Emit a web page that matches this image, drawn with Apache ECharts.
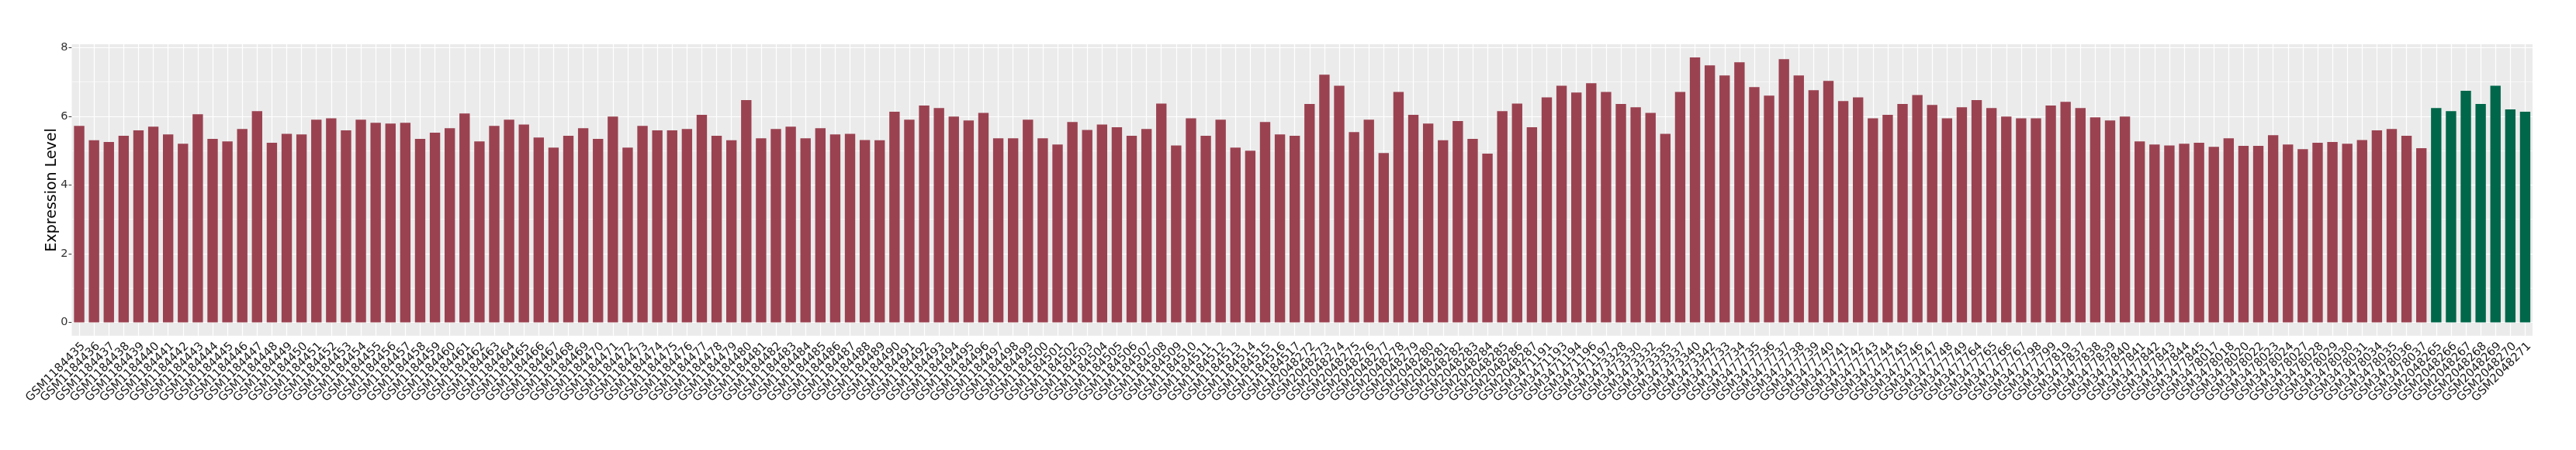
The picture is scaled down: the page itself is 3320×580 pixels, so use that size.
<!DOCTYPE html>
<html><head><meta charset="utf-8">
<script src="https://cdn.jsdelivr.net/npm/echarts@6/dist/echarts.min.js"></script>
<style>html,body{margin:0;padding:0;background:#fff}#c{width:3320px;height:580px}</style>
</head><body><div id="c"></div>
<script>
const categories = [
"GSM1184435","GSM1184436","GSM1184437","GSM1184438","GSM1184439","GSM1184440","GSM1184441","GSM1184442","GSM1184443","GSM1184444",
"GSM1184445","GSM1184446","GSM1184447","GSM1184448","GSM1184449","GSM1184450","GSM1184451","GSM1184452","GSM1184453","GSM1184454",
"GSM1184455","GSM1184456","GSM1184457","GSM1184458","GSM1184459","GSM1184460","GSM1184461","GSM1184462","GSM1184463","GSM1184464",
"GSM1184465","GSM1184466","GSM1184467","GSM1184468","GSM1184469","GSM1184470","GSM1184471","GSM1184472","GSM1184473","GSM1184474",
"GSM1184475","GSM1184476","GSM1184477","GSM1184478","GSM1184479","GSM1184480","GSM1184481","GSM1184482","GSM1184483","GSM1184484",
"GSM1184485","GSM1184486","GSM1184487","GSM1184488","GSM1184489","GSM1184490","GSM1184491","GSM1184492","GSM1184493","GSM1184494",
"GSM1184495","GSM1184496","GSM1184497","GSM1184498","GSM1184499","GSM1184500","GSM1184501","GSM1184502","GSM1184503","GSM1184504",
"GSM1184505","GSM1184506","GSM1184507","GSM1184508","GSM1184509","GSM1184510","GSM1184511","GSM1184512","GSM1184513","GSM1184514",
"GSM1184515","GSM1184516","GSM1184517",
"GSM2048272","GSM2048273","GSM2048274","GSM2048275","GSM2048276","GSM2048277","GSM2048278","GSM2048279","GSM2048280","GSM2048281",
"GSM2048282","GSM2048283","GSM2048284","GSM2048285","GSM2048286","GSM2048287",
"GSM3471191","GSM3471193","GSM3471194","GSM3471196","GSM3471197","GSM3473328","GSM3473330","GSM3473332","GSM3473335","GSM3473337",
"GSM3473340","GSM3473342",
"GSM3477733","GSM3477734","GSM3477735","GSM3477736","GSM3477737","GSM3477738","GSM3477739","GSM3477740","GSM3477741","GSM3477742",
"GSM3477743","GSM3477744","GSM3477745","GSM3477746","GSM3477747","GSM3477748","GSM3477749","GSM3477764","GSM3477765","GSM3477766",
"GSM3477767","GSM3477798","GSM3477799","GSM3477819","GSM3477837","GSM3477838","GSM3477839","GSM3477840","GSM3477841","GSM3477842",
"GSM3477843","GSM3477844","GSM3477845",
"GSM3478017","GSM3478018","GSM3478020","GSM3478022","GSM3478023","GSM3478024","GSM3478027","GSM3478028","GSM3478029","GSM3478030",
"GSM3478031","GSM3478034","GSM3478035","GSM3478036","GSM3478037",
"GSM2048265","GSM2048266","GSM2048267","GSM2048268","GSM2048269","GSM2048270","GSM2048271"
];
const redValues = [
5.72,5.30,5.25,5.43,5.59,5.70,5.47,5.20,6.06,5.34,
5.27,5.63,6.15,5.23,5.49,5.47,5.90,5.94,5.59,5.90,
5.81,5.79,5.81,5.34,5.52,5.65,6.08,5.27,5.72,5.90,
5.76,5.38,5.09,5.43,5.65,5.34,5.99,5.09,5.72,5.59,
5.59,5.63,6.04,5.43,5.30,6.47,5.36,5.63,5.70,5.36,
5.65,5.47,5.49,5.31,5.30,6.13,5.90,6.31,6.24,5.99,
5.88,6.10,5.36,5.36,5.90,5.36,5.18,5.83,5.60,5.76,
5.68,5.43,5.63,6.37,5.15,5.94,5.43,5.90,5.09,5.00,
5.83,5.47,5.43,
6.36,7.21,6.89,5.54,5.90,4.93,6.71,6.04,5.79,5.30,
5.86,5.34,4.91,6.15,6.37,5.68,
6.55,6.89,6.69,6.96,6.71,6.36,6.26,6.10,5.49,6.71,
7.71,7.48,
7.19,7.57,6.85,6.60,7.66,7.19,6.76,7.03,6.44,6.55,
5.94,6.04,6.36,6.62,6.33,5.94,6.26,6.47,6.24,5.99,
5.94,5.94,6.31,6.42,6.24,5.97,5.88,5.99,5.27,5.18,
5.15,5.20,5.23,
5.11,5.36,5.14,5.14,5.45,5.18,5.04,5.23,5.25,5.20,
5.31,5.59,5.63,5.43,5.07
];
const greenValues = [6.24,6.15,6.74,6.36,6.89,6.20,6.13];
const yTicks = [0, 2, 4, 6, 8];
const yMinor = [1, 3, 5, 7];
const yMin = -0.386, yMax = 8.096;
const RED = '#9B4251', GREEN = '#00674A';

const barData = redValues.map(v => ({value: v, itemStyle: {color: RED}}))
  .concat(greenValues.map(v => ({value: v, itemStyle: {color: GREEN}})));

const gridLines = [];
yMinor.forEach(v => gridLines.push({yAxis: v, lineStyle: {color: '#fff', width: 0.6, type: 'solid'}}));
yTicks.forEach(v => gridLines.push({yAxis: v, lineStyle: {color: '#fff', width: 1.2, type: 'solid'}}));
categories.forEach(c => gridLines.push({xAxis: c, lineStyle: {color: '#fff', width: 1.2, type: 'solid'}}));

const chart = echarts.init(document.getElementById('c'), null, {renderer: 'canvas'});
chart.setOption({
  animation: false,
  grid: {left: 92.5, right: 56, top: 57, bottom: 147.3, show: true, backgroundColor: '#EBEBEB', borderWidth: 0, containLabel: false},
  xAxis: {
    type: 'category', data: categories, boundaryGap: true,
    axisLine: {show: false},
    axisTick: {show: true, alignWithLabel: true, interval: 0, length: 4, lineStyle: {color: '#333', width: 1}},
    axisLabel: {interval: 0, rotate: 45, fontSize: 15, fontFamily: 'DejaVu Sans', color: '#1a1a1a', margin: 6, align: 'right', verticalAlign: 'top'},
    splitLine: {show: false}
  },
  yAxis: {
    type: 'value', min: yMin, max: yMax,
    name: 'Expression Level', nameLocation: 'middle', nameRotate: 90, nameGap: 16, nameMoveOverlap: false,
    nameTextStyle: {fontSize: 19, fontFamily: 'DejaVu Sans', color: '#000'},
    axisLine: {show: false},
    axisTick: {show: true, length: 4, customValues: yTicks, lineStyle: {color: '#333', width: 1}},
    axisLabel: {customValues: yTicks, fontSize: 14.5, fontFamily: 'DejaVu Sans', color: '#333', margin: 5},
    splitLine: {show: false}
  },
  series: [
    {type: 'line', data: [], z: 1, silent: true,
     markLine: {z: 1, silent: true, symbol: ['none', 'none'], animation: false, label: {show: false}, emphasis: {disabled: true}, data: gridLines}},
    {type: 'bar', data: barData, barWidth: '70%', z: 3, clip: false}
  ]
});
</script></body></html>
